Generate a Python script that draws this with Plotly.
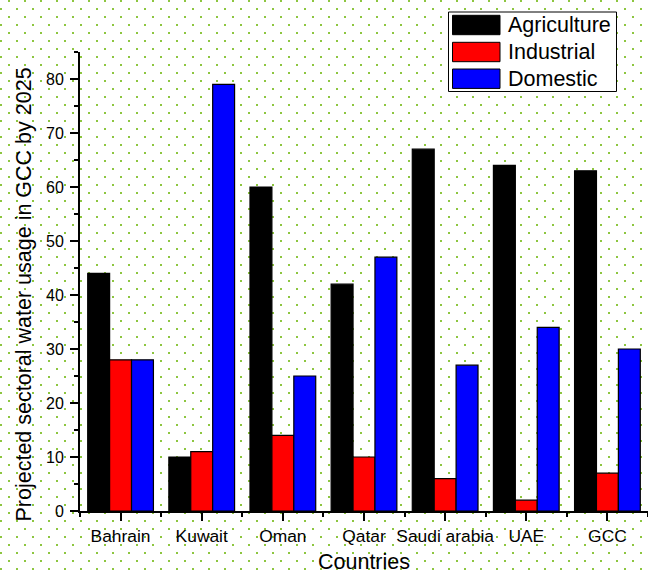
import base64
import plotly.graph_objects as go

# Projected sectoral water usage by 2025
countries = ["Bahrain", "Kuwait", "Oman", "Qatar", "Saudi arabia", "UAE", "GCC"]
agriculture = [44, 10, 60, 42, 67, 64, 63]
industrial = [28, 11, 14, 10, 6, 2, 7]
domestic = [28, 79, 25, 47, 27, 34, 30]

series_names = ["Agriculture", "Industrial", "Domestic"]
series_colors = ["#000000", "#FF0000", "#0000FF"]
y_ticks = [0, 10, 20, 30, 40, 50, 60, 70, 80]

W, H = 648, 576
ML, MR, MT, MB = 80, 0, 52, 65
PW, PH = W - ML - MR, H - MT - MB
FONT = "Arial, Liberation Sans, sans-serif"


def px_x(px):
    return (px - ML) / PW


def px_y(py):
    return (H - MB - py) / PH


# dotted page texture (staggered yellow-green dots)
svg = (
    f'<svg xmlns="http://www.w3.org/2000/svg" width="{W}" height="{H}">'
    '<defs><pattern id="d" width="16" height="16" patternUnits="userSpaceOnUse">'
    '<rect x="8" y="0" width="2" height="2" fill="#8dc63f"/>'
    '<rect x="0" y="8" width="2" height="2" fill="#8dc63f"/>'
    '</pattern></defs>'
    f'<rect width="{W}" height="{H}" fill="url(#d)"/></svg>'
)
texture = "data:image/svg+xml;base64," + base64.b64encode(svg.encode()).decode()

xpos = list(range(len(countries)))

fig = go.Figure()
for name, vals, col in zip(series_names, [agriculture, industrial, domestic], series_colors):
    fig.add_trace(go.Bar(
        x=xpos, y=vals, name=name,
        marker=dict(color=col, line=dict(color="#000000", width=1.2)),
        showlegend=False,
    ))

# hand-drawn legend box in the upper right
shapes = [dict(
    type="rect", xref="paper", yref="paper",
    x0=px_x(448.5), x1=px_x(616.5), y0=px_y(91.5), y1=px_y(12),
    fillcolor="white", line=dict(color="#000000", width=1),
)]
annotations = []
row_centers = [25, 52, 78.7]
for name, col, cy in zip(series_names, series_colors, row_centers):
    shapes.append(dict(
        type="rect", xref="paper", yref="paper",
        x0=px_x(452.5), x1=px_x(500), y0=px_y(cy + 9.7), y1=px_y(cy - 9.7),
        fillcolor=col, line=dict(color="#000000", width=1),
    ))
    annotations.append(dict(
        text=name, xref="paper", yref="paper", x=px_x(506), y=px_y(cy),
        xanchor="left", yanchor="middle", showarrow=False,
        font=dict(family=FONT, size=21.5, color="#000000"),
    ))

annotations.append(dict(
    text="Projected sectoral water usage in GCC by 2025",
    xref="paper", yref="paper", x=px_x(23.5), y=px_y(295),
    xanchor="center", yanchor="middle", textangle=-90, showarrow=False,
    font=dict(family=FONT, size=21.5, color="#000000"),
))
annotations.append(dict(
    text="Countries", xref="paper", yref="paper", x=0.5, y=px_y(562),
    xanchor="center", yanchor="middle", showarrow=False,
    font=dict(family=FONT, size=21.5, color="#000000"),
))

fig.update_layout(
    width=W, height=H,
    margin=dict(l=ML, r=MR, t=MT, b=MB, pad=0),
    paper_bgcolor="white",
    plot_bgcolor="rgba(0,0,0,0)",
    barmode="group", bargap=0.19, bargroupgap=0,
    font=dict(family=FONT, color="#000000"),
    images=[dict(
        source=texture, xref="paper", yref="paper",
        x=px_x(0), y=px_y(0), sizex=W / PW, sizey=H / PH,
        xanchor="left", yanchor="top", sizing="stretch", layer="below",
    )],
    shapes=shapes,
    annotations=annotations,
    xaxis=dict(
        range=[-0.5, len(countries) - 0.5],
        tickmode="array", tickvals=xpos, ticktext=countries,
        showline=True, linecolor="#000000", linewidth=2,
        ticks="outside", ticklen=8, tickwidth=2, tickcolor="#000000",
        minor=dict(tick0=0.5, dtick=1, ticks="outside", ticklen=4,
                   tickwidth=2, tickcolor="#000000"),
        showgrid=False, zeroline=False,
        tickfont=dict(family=FONT, size=17.4, color="#000000"),
    ),
    yaxis=dict(
        range=[0, 85],
        tickmode="array", tickvals=y_ticks,
        showline=True, linecolor="#000000", linewidth=2,
        ticks="outside", ticklen=8, tickwidth=2, tickcolor="#000000",
        ticklabelstandoff=3,
        minor=dict(tick0=0, dtick=5, ticks="outside", ticklen=4,
                   tickwidth=2, tickcolor="#000000"),
        showgrid=False, zeroline=False,
        tickfont=dict(family=FONT, size=16, color="#000000"),
    ),
)

fig.write_html("out.html")
